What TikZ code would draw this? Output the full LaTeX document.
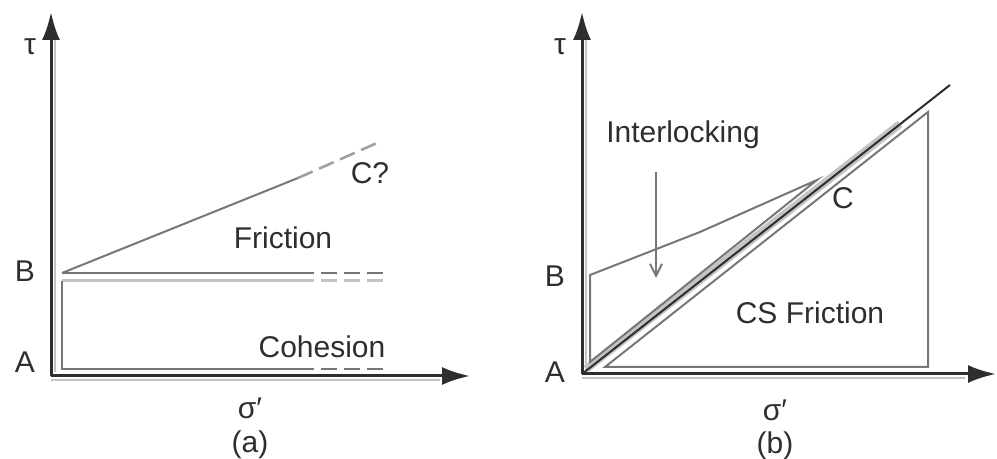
\documentclass[tikz,border=0pt]{standalone}
\usepackage{fontspec}
\setmainfont{Liberation Sans}
\usetikzlibrary{arrows.meta,positioning,calc}
\definecolor{ink}{HTML}{2e2e2e}
\definecolor{wire}{HTML}{777777}
\definecolor{pale}{HTML}{c4c4c4}

\begin{document}
\begin{tikzpicture}[x=0.5pt,y=-0.5pt,
   ax/.style={draw=ink,line width=1.5pt,-{Latex[length=14pt,width=9pt]}},
   shade/.style={draw=pale,line width=1pt},
   ln/.style={draw=wire,line width=1pt},
   dsh/.style={dash pattern=on 8pt off 3.5pt},
   lbl/.style={font=\fontsize{15}{18}\selectfont,text=ink,inner sep=0pt}]
  \useasboundingbox (0,0) rectangle (997,459);

  % (a)
  \coordinate (oa) at (51,376);
  \coordinate (ta) at (51,12);
  \coordinate (sa) at (470,376);
  \draw[shade] (55,40) -- (55,372);
  \draw[shade] (51,380) -- (440,380);
  \draw[ax] (oa) -- (ta);
  \draw[ax] (oa) -- (sa);
  \coordinate (ba) at (62,273);
  \coordinate (fa) at (298,178);
  \coordinate (ca) at (377,143);
  \draw[ln] (ba) -- (fa);
  \draw[ln,dsh,line width=1.3pt,draw=wire!70] (fa) -- (ca);
  \draw[ln] (ba) -- (298,273);
  \draw[ln,dsh,line width=1.3pt] (298,273) -- (386,273);
  \draw[shade,line width=1.5pt] (62,281) -- (298,281);
  \draw[shade,line width=1.5pt,dsh] (298,281) -- (386,281);
  \draw[ln] (62,281) -- (62,369) -- (298,369);
  \draw[ln,dsh,line width=1.3pt] (298,369) -- (386,369);
  \node[lbl] (taua) at (30,47) {τ};
  \node[lbl] (Ba) at (25,271) {B};
  \node[lbl] (Aa) at (25,362) {A};
  \node[lbl] (siga) at (250,408) {σ′};
  \node[lbl] (capa) at (250,445) {(a)};
  \node[lbl] (fric) at (283,238) {Friction};
  \node[lbl] (cq) at (370,173) {C?};
  \node[lbl] (coh) at (322,347) {Cohesion};

  % (b)
  \coordinate (ob) at (582,374);
  \coordinate (tb) at (582,12);
  \coordinate (sb) at (996,374);
  \draw[shade] (586,40) -- (586,370);
  \draw[shade] (582,378) -- (965,378);
  \draw[ax] (ob) -- (tb);
  \draw[ax] (ob) -- (sb);
  \coordinate (csl) at (950,85);
  \draw[pale,line width=4pt] (586,369) -- (900,124);
  \draw[ink,line width=1pt] (ob) -- (csl);
  \coordinate (bb) at (590,275);
  \coordinate (pk) at (817,180);
  \draw[ln] (590,362) -- (bb) -- (700,232) -- (pk) -- cycle;
  \draw[ln] (605,367) -- (928,367) -- (928,112) -- cycle;
  \coordinate (push) at (656,172);
  \coordinate (pushend) at (656,278);
  \draw[ln,-{Straight Barb[length=6pt,width=6pt]}] (push) -- (pushend);
  \node[lbl] (taub) at (560,47) {τ};
  \node[lbl] (Bb) at (555,276) {B};
  \node[lbl] (Ab) at (555,372) {A};
  \node[lbl] (sigb) at (775,410) {σ′};
  \node[lbl] (capb) at (775,446) {(b)};
  \node[lbl] (intl) at (683,135) {Interlocking};
  \node[lbl] (Cb) at (843,198) {C};
  \node[lbl] (csf) at (810,313) {CS Friction};
\end{tikzpicture}
\end{document}
